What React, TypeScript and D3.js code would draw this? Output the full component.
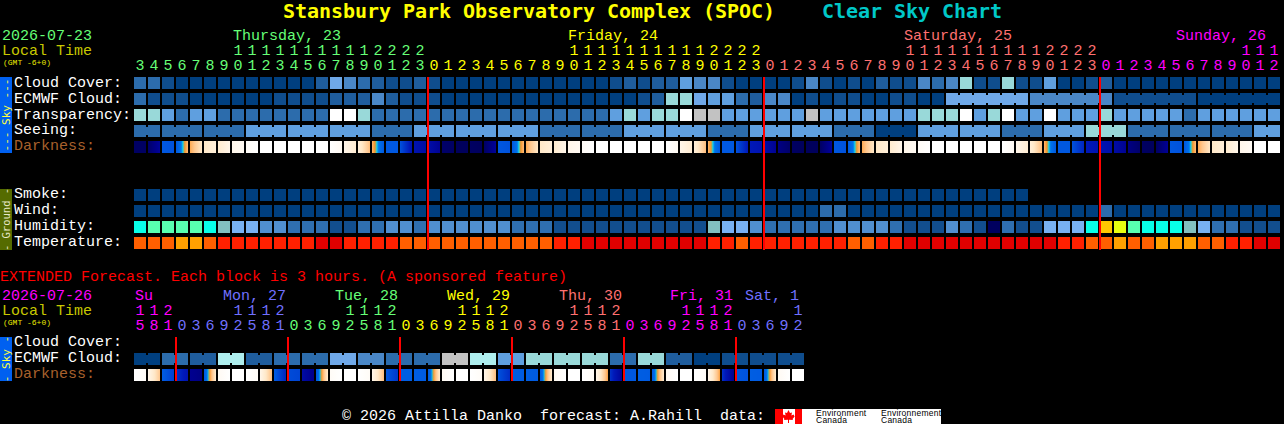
// App.tsx - clear sky chart, 1 hour blocks then 3 hour extended blocks
import React from "react";
import * as d3 from "d3";

const hours = [
  3, 4, 5, 6, 7, 8, 9, 10, 11, 12, 13, 14, 15, 16, 17, 18, 19, 20, 21, 22, 23,
  0, 1, 2, 3, 4, 5, 6, 7, 8, 9, 10, 11, 12, 13, 14, 15, 16, 17, 18, 19, 20, 21, 22, 23,
  0, 1, 2, 3, 4, 5, 6, 7, 8, 9, 10, 11, 12, 13, 14, 15, 16, 17, 18, 19, 20, 21, 22, 23,
  0, 1, 2, 3, 4, 5, 6, 7, 8, 9, 10, 11, 12,
];
const dayNames = ["Thursday, 23", "Friday, 24", "Saturday, 25", "Sunday, 26"];
const dayFirstCol = [0, 21, 45, 69];

const cloudCover = [
  3, 3, 1, 0, 0, 0, 0, 0, 0, 0,
  0, 0, 0, 2, 6, 4, 3, 2, 1, 1,
  2, 1, 0, 0, 0, 0, 0, 0, 0, 0,
  0, 0, 0, 0, 1, 2, 1, 2, 2, 5,
  4, 4, 1, 0, 0, 0, 0, 1, 4, 1,
  0, 1, 0, 2, 1, 1, 4, 3, 4, 7,
  1, 1, 7, 1, 1, 5, 0, 0, 1, 2,
  0, 0, 0, 0, 0, 0, 0, 0, 0, 0, 0, 0,
];
const ecmwfCloud = [
  3, 1, 1, 1, 0, 0, 0, 0, 0, 0,
  1, 1, 1, 1, 2, 2, 2, 4, 2, 1,
  1, 1, 0, 0, 0, 0, 0, 0, 0, 0,
  0, 0, 0, 0, 0, 0, 1, 2, 7, 7,
  6, 5, 5, 3, 2, 4, 4, 0, 1, 0,
  1, 1, 0, 0, 1, 1, 0, 0, 6, 6,
  6, 6, 6, 6, 4, 4, 4, 4, 4, 4,
  1, 1, 1, 1, 1, 1, 0, 0, 0, 0, 0, 0,
];
const transparency = [
  7, 7, 5, 3, 5, 5, 3, 3, 3, 3,
  3, 3, 3, 3, 10, 10, 7, 3, 3, 3,
  3, 3, 3, 3, 3, 3, 3, 3, 3, 3,
  3, 3, 3, 3, 5, 7, 5, 7, 7, 10,
  9, 9, 5, 5, 5, 5, 5, 5, 9, 5,
  5, 5, 5, 5, 5, 5, 7, 7, 7, 10,
  5, 7, 10, 5, 5, 10, 5, 5, 5, 7,
  5, 5, 5, 5, 5, 3, 5, 5, 5, 5, 5, 5,
];
const seeing = [
  3, 3, 3, 3, 3, 3, 3, 3, 5, 5,
  5, 5, 5, 5, 5, 5, 5, 3, 3, 3,
  5, 5, 5, 5, 5, 5, 5, 5, 5, 3,
  3, 3, 3, 3, 3, 5, 5, 5, 5, 5,
  5, 3, 3, 3, 5, 5, 5, 5, 5, 5,
  3, 3, 3, 0, 0, 0, 5, 5, 5, 5,
  5, 5, 3, 3, 3, 5, 5, 5, 7, 7,
  7, 3, 3, 3, 3, 3, 3, 3, 3, 3, 5, 5,
];
// sky brightness at the left and right edge of each block
const darkStart = [
  0.3, 0.4, 3, 3, 4.7, 6, 6.2, 7, 7.6, 8,
  8, 8, 8, 8, 8, 7, 6.5, 4.9, 3, 2.9,
  1.8, 1.6, 0.4, 0.2, 0.3, 0.3, 3, 3, 4.7, 6,
  6.2, 7, 7.6, 8, 8, 8, 8, 8, 8, 7,
  6.5, 4.9, 3, 2.9, 2, 1.6, 0.8, 0.3, 0.2, 0.3,
  3, 3, 4.7, 6, 6.2, 7, 7.6, 8, 8, 8,
  8, 8, 8, 7, 6.5, 4.9, 3, 2.9, 2, 1.8,
  1.5, 0.8, 0.3, 0.3, 3, 3, 4.7, 6, 6.2, 7, 8, 8,
];
const darkEnd = [
  0.3, 1.2, 2.9, 5, 6, 6.5, 7, 7.4, 8, 8,
  8, 8, 8, 8, 7.4, 6.3, 5, 3, 3, 1.8,
  1.5, 1.1, 0.3, 0.2, 0.2, 1.2, 2.9, 5, 6, 6.5,
  7, 7.4, 8, 8, 8, 8, 8, 8, 7.4, 6.3,
  5, 3, 3, 2, 1.8, 1.1, 0.4, 0.2, 0.2, 1.2,
  2.9, 5, 6, 6.5, 7, 7.4, 8, 8, 8, 8,
  8, 8, 7.4, 6.3, 5, 3, 3, 2.2, 1.8, 1.6,
  1.1, 0.4, 0.2, 1.1, 2.9, 5, 6, 6.5, 7, 7.5, 8, 8,
];

const smoke = [
  0, 0, 0, 0, 0, 0, 0, 0, 0, 0,
  0, 0, 0, 0, 0, 0, 0, 0, 0, 0,
  0, 0, 0, 0, 0, 0, 0, 0, 0, 0,
  0, 0, 0, 0, 0, 0, 0, 0, 0, 0,
  0, 0, 0, 0, 0, 0, 0, 0, 0, 0,
  0, 0, 0, 0, 0, 0, 0, 0, 0, 0,
  0, 0, 0, 0,
];
const wind = [
  0, 0, 0, 0, 0, 0, 0, 0, 0, 0,
  0, 0, 0, 0, 0, 0, 0, 0, 0, 0,
  0, 0, 0, 0, 0, 0, 0, 0, 0, 0,
  0, 0, 0, 0, 0, 0, 0, 0, 0, 0,
  0, 0, 0, 0, 0, 0, 0, 0, 0, 3,
  3, 0, 0, 0, 0, 0, 0, 0, 0, 0,
  0, 0, 0, 0, 0, 0, 0, 0, 0, 3,
  0, 0, 0, 0, 0, 0, 0, 0, 0, 0, 0, 0,
];
const humidity = [
  6, 7, 7, 7, 7, 6, 5, 4, 4, 3,
  3, 2, 2, 2, 1, 1, 2, 2, 3, 3,
  2, 3, 3, 3, 3, 3, 3, 2, 2, 2,
  1, 1, 1, 1, 1, 1, 1, 1, 1, 1,
  1, 5, 4, 4, 3, 2, 2, 2, 2, 2,
  3, 3, 3, 3, 2, 1, 1, 1, 3, 2,
  1, 0, 2, 1, 1, 4, 4, 4, 6, 9,
  8, 7, 6, 6, 6, 5, 4, 2, 2, 1, 1, 1,
];
const temperature = [
  2, 2, 2, 3, 3, 2, 1, 1, 1, 1,
  1, 1, 1, 0, 0, 1, 1, 1, 1, 2,
  2, 2, 2, 2, 2, 2, 2, 2, 2, 2,
  1, 1, 0, 0, 0, 0, 0, 0, 0, 0,
  0, 1, 1, 2, 1, 1, 1, 1, 1, 1,
  1, 2, 2, 1, 1, 0, 0, 0, 0, 0,
  0, 0, 0, 0, 0, 0, 1, 1, 2, 2,
  3, 2, 2, 3, 3, 3, 2, 2, 1, 1, 0, 0,
];

// extended forecast, one value per 3 hours
const extHours = [
  15, 18, 21,
  0, 3, 6, 9, 12, 15, 18, 21,
  0, 3, 6, 9, 12, 15, 18, 21,
  0, 3, 6, 9, 12, 15, 18, 21,
  0, 3, 6, 9, 12, 15, 18, 21,
  0, 3, 6, 9, 12, 15, 18, 21,
  0, 3, 6, 9, 12,
];
const extDayNames = ["Su", "Mon, 27", "Tue, 28", "Wed, 29", "Thu, 30", "Fri, 31", "Sat, 1"];
const extDayFirstCol = [0, 3, 11, 19, 27, 35, 43];
const extEcmwf = [
  0, 0, 3, 3, 2, 2, 8, 8, 2, 2,
  3, 3, 3, 3, 6, 6, 4, 4, 3, 3,
  3, 3, 9, 9, 8, 8, 5, 5, 7, 7,
  7, 7, 7, 7, 3, 3, 7, 7, 2, 2,
  0, 0, 1, 1, 1, 1, 1, 1,
];
const extDarkStart = [
  8, 7, 3.1, 2.4, 1, 3, 7.4, 8, 8, 7,
  3.1, 2.8, 1.5, 3, 7.6, 8, 8, 7, 3, 3.2,
  3.2, 3, 7.4, 8, 8, 7, 2.9, 3.2, 3.2, 3,
  7.4, 8, 8, 7, 2.4, 3, 3.2, 3, 7.4, 8,
  8, 7, 2.4, 3, 3.2, 3, 7.4, 8,
];
const extDarkEnd = [
  7.6, 5.2, 2.6, 1.8, 0.8, 6.2, 8, 8, 7.6, 5,
  2.2, 2.7, 0.9, 6.2, 8, 8, 7.6, 5, 2.5, 3.2,
  3.1, 6.2, 8, 8, 7.6, 5, 2.3, 3.1, 3.1, 6.2,
  8, 8, 7.6, 4.6, 1.2, 3, 3.1, 6.2, 8, 8,
  7.6, 4.6, 1, 2.9, 3.1, 6.2, 8, 8,
];

const W = 1284;
const H = 424;
const FONT = "'Liberation Mono', 'DejaVu Sans Mono', monospace";
const TITLE_FONT = "'DejaVu Sans Mono', monospace";
const mainCols = hours.length;
const extCols = extHours.length;
const STEP = 14;
const BLOCK = 12;

const xMain = d3
  .scaleBand<number>()
  .domain(d3.range(mainCols))
  .range([134, 134 + mainCols * STEP - (STEP - BLOCK)])
  .paddingInner((STEP - BLOCK) / STEP);
const xExt = d3
  .scaleBand<number>()
  .domain(d3.range(extCols))
  .range([134, 134 + extCols * STEP - (STEP - BLOCK)])
  .paddingInner((STEP - BLOCK) / STEP);

const cloudColor = d3
  .scaleOrdinal<number, string>()
  .domain(d3.range(11))
  .range(["#003f7f", "#0f4d8d", "#1f5d9d", "#2c6cac", "#4a87c7", "#5f9fdf", "#6fa8e8", "#99d9d9", "#aeeeee", "#c2c2c2", "#ffffff"]);
const humidityColor = d3
  .scaleOrdinal<number, string>()
  .domain(d3.range(10))
  .range(["#00005f", "#124e8e", "#2f6fb0", "#508fd0", "#78b1f2", "#82c0c0", "#08ffe8", "#58ffb0", "#e8ff10", "#ffc800"]);
const tempColor = d3
  .scaleOrdinal<number, string>()
  .domain([0, 1, 2, 3])
  .range(["#e00000", "#ff2000", "#ff5f00", "#ffa000"]);
const darkColor = d3
  .scaleLinear<string>()
  .domain([0, 1, 2, 3, 3.9, 4.15, 4.4, 4.8, 5.2, 6, 7, 8])
  .range(["#00004f", "#000090", "#0018b8", "#0058e0", "#0074ec", "#10e0f0", "#f09020", "#ffb060", "#ffc890", "#ffe8c8", "#fff6ea", "#ffffff"]);

const dayColors = ["#66ff77", "#ffff00", "#ff7070", "#ff00ff"];
const extDayColors = ["#ff00ff", "#7070ff", "#66ff77", "#ffff00", "#ff7070", "#ff00ff", "#7070ff"];

function colorOfCol(col: number, firstCols: number[], colors: string[]) {
  return colors[d3.bisectRight(firstCols, col) - 1];
}

// block row, with connectors between blocks that belong to one forecast period
function BlockRow({ values, y, x, color, runs = [] }: {
  values: number[];
  y: number;
  x: d3.ScaleBand<number>;
  color: (v: number) => string;
  runs?: [number, number][];
}) {
  const w = x.bandwidth();
  return (
    <g>
      {values.map((v, i) => (
        <rect key={i} x={x(i)} y={y} width={w} height={BLOCK} fill={color(v)} />
      ))}
      {runs.flatMap(([a, b]) =>
        d3.range(a, b).map((i) => (
          <rect key={"c" + i} x={x(i)! + w} y={y + 2} width={STEP - BLOCK} height={BLOCK - 4} fill={color(values[i])} />
        ))
      )}
    </g>
  );
}

function DarkRow({ starts, ends, y, x, id }: {
  starts: number[];
  ends: number[];
  y: number;
  x: d3.ScaleBand<number>;
  id: string;
}) {
  const samples = d3.range(0, 1.0001, 1 / 12);
  return (
    <g>
      <defs>
        {starts.map((s, i) => (
          <linearGradient key={i} id={id + i}>
            {samples.map((t) => (
              <stop key={t} offset={t} stopColor={darkColor(s + (ends[i] - s) * t)} />
            ))}
          </linearGradient>
        ))}
      </defs>
      {starts.map((_, i) => (
        <rect key={i} x={x(i)} y={y} width={x.bandwidth()} height={BLOCK} fill={`url(#${id}${i})`} />
      ))}
    </g>
  );
}

function HourLabels({ values, x, yTens, yUnits, firstCols, colors }: {
  values: number[];
  x: d3.ScaleBand<number>;
  yTens: number;
  yUnits: number;
  firstCols: number[];
  colors: string[];
}) {
  return (
    <g textAnchor="middle">
      {values.map((h, i) => {
        const cx = x(i)! + x.bandwidth() / 2;
        const fill = colorOfCol(i, firstCols, colors);
        return (
          <g key={i} fill={fill}>
            {h >= 10 && <text x={cx} y={yTens}>{Math.floor(h / 10)}</text>}
            <text x={cx} y={yUnits}>{h % 10}</text>
          </g>
        );
      })}
    </g>
  );
}

function SideBar({ y, h, fill, color, label, size }: { y: number; h: number; fill: string; color: string; label: string; size: number }) {
  return (
    <g>
      <rect x={0} y={y} width={12} height={h} fill={fill} />
      <text transform={`translate(10,${y + h / 2}) rotate(-90)`} textAnchor="middle" fill={color} fontSize={size} fontFamily={TITLE_FONT} xmlSpace="preserve">
        {label}
      </text>
    </g>
  );
}

const Label = ({ y, text, fill = "#ffffff" }: { y: number; text: string; fill?: string }) => (
  <text x={14} y={y} fill={fill}>{text}</text>
);

const seeingRuns: [number, number][] = [[0, 1], ...d3.range(2, 80, 3).map((a) => [a, a + 2] as [number, number]), [80, 81]];
const ecmwfRuns: [number, number][] = [[58, 63], [64, 69], [70, 75], [76, 81]];
const extRuns: [number, number][] = d3.range(0, extCols, 2).map((a) => [a, a + 1]);

const App: React.FC = () => {
  const cloud = (v: number) => cloudColor(v);
  return (
    <svg width={W} height={H} style={{ position: "absolute", left: 0, top: 0, background: "#000" }} fontFamily={FONT} fontSize={15}>
      <g fontSize={20} fontWeight="bold" fontFamily={TITLE_FONT} letterSpacing={-0.04}>
        <text x={283} y={18} fill="#ffff00">Stansbury Park Observatory Complex (SPOC)</text>
        <text x={822} y={18} fill="#00c8c8">Clear Sky Chart</text>
      </g>

      <text x={2} y={40} fill="#66ff77">2026-07-23</text>
      <text x={2} y={55} fill="#c8c800">Local Time</text>
      <text x={3} y={65} fill="#e8e800" fontSize={8}>(GMT -6+0)</text>
      {dayNames.map((d, i) => (
        <text key={d} x={[233, 568, 904, 1176][i]} y={40} fill={dayColors[i]}>{d}</text>
      ))}
      <HourLabels values={hours} x={xMain} yTens={55} yUnits={70} firstCols={dayFirstCol} colors={dayColors} />

      <SideBar y={77} h={76} fill="#0060f0" color="#ffff40" label="--- Sky ---" size={11} />
      <Label y={87} text="Cloud Cover:" />
      <Label y={103} text="ECMWF Cloud:" />
      <Label y={119} text="Transparency:" />
      <Label y={134} text="Seeing:" />
      <Label y={150} text="Darkness:" fill="#a8602c" />
      <BlockRow values={cloudCover} y={77} x={xMain} color={cloud} />
      <BlockRow values={ecmwfCloud} y={93} x={xMain} color={cloud} runs={ecmwfRuns} />
      <BlockRow values={transparency} y={109} x={xMain} color={cloud} />
      <BlockRow values={seeing} y={125} x={xMain} color={cloud} runs={seeingRuns} />
      <DarkRow starts={darkStart} ends={darkEnd} y={141} x={xMain} id="dm" />

      <SideBar y={189} h={61} fill="#556b00" color="#e8e8c8" label="- Ground -" size={10.5} />
      <Label y={198} text="Smoke:" />
      <Label y={214} text="Wind:" />
      <Label y={230} text="Humidity:" />
      <Label y={246} text="Temperature:" />
      <BlockRow values={smoke} y={189} x={xMain} color={cloud} />
      <BlockRow values={wind} y={205} x={xMain} color={cloud} />
      <BlockRow values={humidity} y={221} x={xMain} color={(v) => humidityColor(v)} />
      <BlockRow values={temperature} y={237} x={xMain} color={(v) => tempColor(v)} />

      {dayFirstCol.slice(1).map((c) => (
        <line key={c} x1={xMain(c)} x2={xMain(c)} y1={77} y2={250} stroke="#ff0000" strokeWidth={2} />
      ))}

      <text x={0} y={281} fill="#ff0000">EXTENDED Forecast. Each block is 3 hours. (A sponsored feature)</text>

      <text x={2} y={300} fill="#ff00ff">2026-07-26</text>
      <text x={2} y={315} fill="#c8c800">Local Time</text>
      <text x={3} y={325} fill="#e8e800" fontSize={8}>(GMT -6+0)</text>
      {extDayNames.map((d, i) => (
        <text key={d} x={[135, 223, 335, 447, 559, 670, 745][i]} y={300} fill={extDayColors[i]}>{d}</text>
      ))}
      <HourLabels values={extHours} x={xExt} yTens={315} yUnits={330} firstCols={extDayFirstCol} colors={extDayColors} />

      <SideBar y={337} h={44} fill="#0060f0" color="#ffff40" label="- Sky -" size={11} />
      <Label y={346} text="Cloud Cover:" />
      <Label y={362} text="ECMWF Cloud:" />
      <Label y={378} text="Darkness:" fill="#a8602c" />
      <BlockRow values={extEcmwf} y={353} x={xExt} color={cloud} runs={extRuns} />
      <DarkRow starts={extDarkStart} ends={extDarkEnd} y={369} x={xExt} id="de" />
      {extDayFirstCol.slice(1).map((c) => (
        <line key={c} x1={xExt(c)} x2={xExt(c)} y1={337} y2={381} stroke="#ff0000" strokeWidth={2} />
      ))}

      <text x={342} y={419.5} fill="#ffffff" xmlSpace="preserve">© 2026 Attilla Danko  forecast: A.Rahill  data:</text>

      <g transform="translate(775,409)">
        <rect width={166} height={15} fill="#ffffff" />
        <rect width={8} height={15} fill="#ff0000" />
        <rect x={20} width={7} height={15} fill="#ff0000" />
        <path
          d="M13.5 1 L15 4 L17 3.4 L16.4 6.6 L18.6 5.6 L19.6 7.6 L17.6 10 L18 11 L14 10.8 L14 14 L13 14 L13 10.8 L9 11 L9.4 10 L7.4 7.6 L8.4 5.6 L10.6 6.6 L10 3.4 L12 4 Z"
          fill="#ff0000"
        />
        <g fill="#000000" fontFamily="'Liberation Sans', Arial, sans-serif" fontSize={8.5} letterSpacing={0.25}>
          <text x={41} y={6.5}>Environment</text>
          <text x={41} y={14}>Canada</text>
          <text x={106} y={6.5}>Environnement</text>
          <text x={106} y={14}>Canada</text>
        </g>
      </g>
    </svg>
  );
};

export default App;
